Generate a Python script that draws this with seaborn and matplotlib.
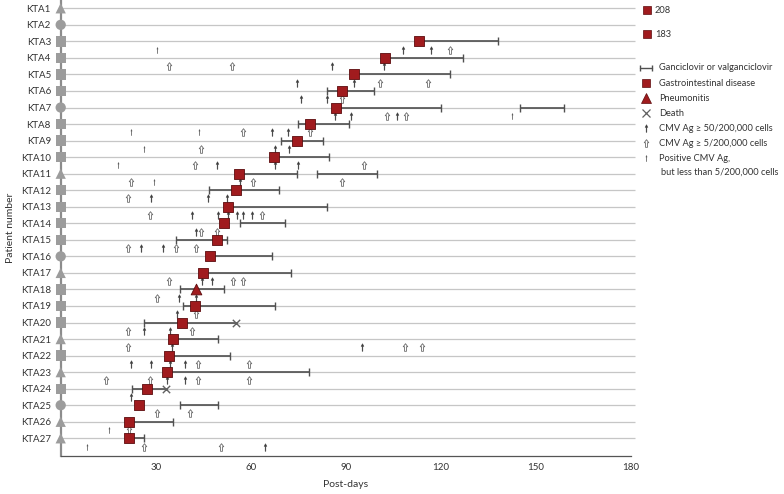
import numpy as np
import pandas as pd
import matplotlib
matplotlib.use('Agg')
import matplotlib.pyplot as plt
from matplotlib.path import Path
import seaborn as sns

# Configuration
OUTPUT_IMAGE = 'out.png'
RED = '#a01b1e'
RED_EDGE = '#5c0c0e'
BAR_COLOR = '#505050'
ROW_COLOR = '#c6c6c6'
AXIS_MARK = '#9c9c9c'
FONT_SIZE = 7
KEY_FONT = 6.7

# Data (in post-transplant days)
patients = [f'KTA{i}' for i in range(1, 28)]
axis_shape = ['^', 'o', 's', 's', 's', 's', 'o', 's', 's', 's',
              '^', 's', 's', 's', 's', 'o', '^', 's', 's', 's',
              '^', 's', '^', 's', 'o', '^', '^']

gi_patients = ['KTA3', 'KTA4', 'KTA5', 'KTA6', 'KTA7', 'KTA8', 'KTA9', 'KTA10',
               'KTA11', 'KTA12', 'KTA13', 'KTA14', 'KTA15', 'KTA16', 'KTA17',
               'KTA19', 'KTA20', 'KTA21', 'KTA22', 'KTA23', 'KTA24', 'KTA25',
               'KTA26', 'KTA27']
gi_days = [113, 102.5, 92.6, 88.7, 86.8, 78.6, 74.6, 67.4,
           56.4, 55.4, 52.8, 51.7, 49.4, 47.1, 44.8,
           42.4, 38.4, 35.4, 34.2, 33.5, 27.3, 24.7,
           21.6, 21.6]

offscale_labels = ['208', '183']

pneumonitis_patients = ['KTA18']
pneumonitis_days = [42.6]

death_patients = ['KTA20', 'KTA24']
death_days = [55.4, 33.3]

gcv_patients = ['KTA3', 'KTA4', 'KTA5', 'KTA6', 'KTA7', 'KTA7', 'KTA8', 'KTA9',
                'KTA10', 'KTA11', 'KTA11', 'KTA12', 'KTA13', 'KTA14', 'KTA15',
                'KTA16', 'KTA17', 'KTA18', 'KTA19', 'KTA20', 'KTA21', 'KTA22',
                'KTA23', 'KTA24', 'KTA25', 'KTA26', 'KTA27']
gcv_start = [113, 102.5, 92.6, 84, 86.8, 145, 74.8, 69.7,
             67.4, 56.4, 81, 46.8, 52.8, 56.6, 36.4,
             47.1, 44.8, 37.7, 38.5, 26.3, 35.4, 34.2,
             33.5, 22.5, 37.7, 21.6, 21.6]
gcv_end = [138, 127, 123, 99, 120, 159, 91, 82.7,
           84.8, 74.5, 100, 68.8, 84, 70.8, 52.4,
           66.7, 72.6, 51.7, 67.7, 55.4, 49.7, 53.5,
           78.5, 33.3, 49.8, 35.4, 26.3]

ag_high = {  # CMV Ag >= 50/200,000 cells
    'KTA3': [108, 117], 'KTA4': [85.8, 102.2], 'KTA5': [74.6, 92.6],
    'KTA6': [75.8, 84], 'KTA7': [86.7, 91.7, 106.1], 'KTA8': [66.7, 71.7],
    'KTA9': [67.8, 72], 'KTA10': [49.4, 67.8, 74.8], 'KTA11': [56.6],
    'KTA12': [28.4, 46.6, 52.5], 'KTA13': [41.6, 49.8, 52.7, 55.8, 57.7, 60.5],
    'KTA14': [42.6], 'KTA15': [25.4, 32.4], 'KTA17': [44.5, 47.7],
    'KTA18': [37.5, 42.6], 'KTA19': [36.6], 'KTA20': [26.3, 34.5],
    'KTA21': [35.1, 95], 'KTA22': [22.3, 28.4, 34.5, 39.3],
    'KTA23': [33.5, 39.3], 'KTA24': [22.3], 'KTA27': [64.5],
}
ag_mid = {  # CMV Ag >= 5/200,000 cells
    'KTA3': [123], 'KTA4': [34.3, 54.2], 'KTA5': [100.8, 116.1],
    'KTA6': [88.8], 'KTA7': [102.9, 108.9], 'KTA8': [57.5, 78.6],
    'KTA9': [44.3], 'KTA10': [42.4, 95.7], 'KTA11': [22.2, 60.8, 88.8],
    'KTA12': [21.4], 'KTA13': [28.2, 63.6], 'KTA14': [44.3, 49.4],
    'KTA15': [21.4, 36.3, 42.6], 'KTA17': [34.3, 54.5, 57.5], 'KTA18': [30.3],
    'KTA19': [42.6], 'KTA20': [21.4, 41.5], 'KTA21': [21.4, 108.7, 114],
    'KTA22': [43.4, 59.6], 'KTA23': [14.3, 28.3, 43.5, 59.6],
    'KTA25': [30.5, 40.8], 'KTA26': [21.6], 'KTA27': [26.3, 50.5],
}
ag_low = {  # positive CMV Ag, < 5/200,000 cells
    'KTA3': [30.3], 'KTA7': [142.4], 'KTA8': [22.2, 43.6], 'KTA9': [26.3],
    'KTA10': [18.2], 'KTA11': [29.4], 'KTA26': [15.2], 'KTA27': [8.2],
}

x_ticks = [30, 60, 90, 120, 150, 180]

# Marker shapes
ARROW_FILLED = Path([(0, 1), (0.38, 0.3), (0.1, 0.3), (0.1, -1), (-0.1, -1),
                     (-0.1, 0.3), (-0.38, 0.3), (0, 1)], closed=True)
ARROW_HOLLOW = Path([(0, 1), (0.6, 0.2), (0.26, 0.2), (0.26, -1), (-0.26, -1),
                     (-0.26, 0.2), (-0.6, 0.2), (0, 1)], closed=True)
ARROW_THIN = Path([(0, 1), (0.22, 0.45), (0.06, 0.45), (0.06, -1), (-0.06, -1),
                   (-0.06, 0.45), (-0.22, 0.45), (0, 1)], closed=True)

row_of = {p: i + 1 for i, p in enumerate(patients)}


def events_frame(d):
    rows = [(p, row_of[p] + 0.5, day) for p, days in d.items() for day in days]
    return pd.DataFrame(rows, columns=['patient', 'row', 'day'])


def create_chart():
    sns.set_theme(style='white')
    plt.rcParams['font.family'] = ['Lato', 'DejaVu Sans']

    fig = plt.figure(figsize=(7.84, 4.94), dpi=100)
    ax = fig.add_axes([60.7 / 784, 38 / 494, 570.1 / 784, 456 / 494])

    rows = np.arange(1, len(patients) + 1)
    ax.hlines(rows, 0, 181.3, color=ROW_COLOR, lw=0.9, zorder=1, clip_on=False)

    # Ganciclovir courses; a course ending in death gets the X, not a cap
    g_rows = [row_of[p] for p in gcv_patients]
    ax.hlines(g_rows, gcv_start, gcv_end, color=BAR_COLOR, lw=1.2, zorder=2)
    deaths = set(zip(death_patients, death_days))
    caps = [(row_of[p], s) for p, s in zip(gcv_patients, gcv_start)]
    caps += [(row_of[p], e) for p, e in zip(gcv_patients, gcv_end)
             if (p, e) not in deaths]
    cap_df = pd.DataFrame(caps, columns=['row', 'day'])
    sns.scatterplot(data=cap_df, x='day', y='row', marker='|', s=30,
                    color=BAR_COLOR, linewidth=1.0, zorder=2, ax=ax)

    # CMV antigenemia markers (just below each patient line)
    sns.scatterplot(data=events_frame(ag_high), x='day', y='row',
                    marker=ARROW_FILLED, s=30, color='#3c3c3c',
                    edgecolor='#3c3c3c', linewidth=0.3, zorder=3, ax=ax)
    sns.scatterplot(data=events_frame(ag_mid), x='day', y='row',
                    marker=ARROW_HOLLOW, s=30, color='white',
                    edgecolor='#6a6a6a', linewidth=0.6, zorder=3, ax=ax)
    sns.scatterplot(data=events_frame(ag_low), x='day', y='row',
                    marker=ARROW_THIN, s=20, color='#505050',
                    edgecolor='#505050', linewidth=0.2, zorder=3, ax=ax)

    # Clinical events
    gi_df = pd.DataFrame({'row': [row_of[p] for p in gi_patients], 'day': gi_days})
    sns.scatterplot(data=gi_df, x='day', y='row', marker='s', s=42, color=RED,
                    edgecolor=RED_EDGE, linewidth=0.6, zorder=5, ax=ax)
    pn_df = pd.DataFrame({'row': [row_of[p] for p in pneumonitis_patients],
                          'day': pneumonitis_days})
    sns.scatterplot(data=pn_df, x='day', y='row', marker='^', s=60, color=RED,
                    edgecolor=RED_EDGE, linewidth=0.6, zorder=5, ax=ax)
    de_df = pd.DataFrame({'row': [row_of[p] for p in death_patients],
                          'day': death_days})
    sns.scatterplot(data=de_df, x='day', y='row', marker='x', s=28,
                    color='#606060', linewidth=1.0, zorder=5, ax=ax)

    # Symbols on the patient axis
    ax_df = pd.DataFrame({'row': rows, 'day': 0, 'shape': axis_shape})
    sns.scatterplot(data=ax_df, x='day', y='row', style='shape',
                    markers={'^': '^', 'o': 'o', 's': 's'}, s=55,
                    color=AXIS_MARK, edgecolor=AXIS_MARK, linewidth=0,
                    zorder=6, clip_on=False, legend=False, ax=ax)

    ax.set_xlim(0, 180)
    ax.set_ylim(28.07, 0.498)
    ax.set_xticks(x_ticks)
    ax.set_xticklabels([str(t) for t in x_ticks], fontsize=FONT_SIZE, color='#333333')
    ax.set_yticks(rows)
    ax.set_yticklabels(patients, fontsize=FONT_SIZE, color='#333333')
    ax.tick_params(axis='y', length=0, pad=7)
    ax.tick_params(axis='x', direction='inout', length=6, width=0.9,
                   color='#555555', pad=2)
    for side in ['top', 'right']:
        ax.spines[side].set_visible(False)
    ax.spines['left'].set_color('#8c8c8c')
    ax.spines['left'].set_linewidth(1.6)
    ax.spines['bottom'].set_color('#555555')
    ax.spines['bottom'].set_linewidth(0.9)
    ax.set_xlabel('Post-days', fontsize=FONT_SIZE + 0.5, color='#333333')
    ax.set_ylabel('Patient number', fontsize=FONT_SIZE + 0.5, color='#333333')
    ax.xaxis.set_label_coords(0.5, -0.052)
    ax.yaxis.set_label_coords(-0.08, 0.5)

    # Key on the right (pixel coordinates of the figure)
    lax = fig.add_axes([636 / 784, 0, 148 / 784, 1])
    lax.set_xlim(636, 784)
    lax.set_ylim(494, 0)
    lax.axis('off')

    for lab, yy in zip(offscale_labels, [10, 34]):
        lax.plot(647, yy, marker='s', ms=5.5, mfc=RED, mec=RED_EDGE, mew=0.5)
        lax.text(655, yy + 0.5, lab, fontsize=KEY_FONT, va='center', color='#333333')

    ky = [68, 83, 98, 113, 128.5, 143, 158]
    kx = 646
    lax.plot([kx - 6, kx + 6], [ky[0], ky[0]], color=BAR_COLOR, lw=1.0)
    lax.plot([kx - 6, kx + 6], [ky[0], ky[0]], ls='none', marker='|', ms=5,
             mew=1.0, color=BAR_COLOR)
    lax.plot(kx, ky[1], marker='s', ms=6, mfc=RED, mec=RED_EDGE, mew=0.5)
    lax.plot(kx, ky[2], marker='^', ms=7, mfc=RED, mec=RED_EDGE, mew=0.5)
    lax.plot(kx, ky[3], marker='x', ms=6, mew=0.9, color='#606060')
    lax.plot(kx, ky[4], marker=ARROW_FILLED, ms=5.5, mfc='#3c3c3c', mec='#3c3c3c', mew=0.3)
    lax.plot(kx, ky[5], marker=ARROW_HOLLOW, ms=5.5, mfc='white', mec='#6a6a6a', mew=0.6)
    lax.plot(kx, ky[6], marker=ARROW_THIN, ms=4.5, mfc='#505050', mec='#505050', mew=0.2)

    key_labels = ['Ganciclovir or valganciclovir', 'Gastrointestinal disease',
                  'Pneumonitis', 'Death', 'CMV Ag \u2265 50/200,000 cells',
                  'CMV Ag \u2265 5/200,000 cells', 'Positive CMV Ag,']
    for lab, yy in zip(key_labels, ky):
        lax.text(659, yy, lab, fontsize=KEY_FONT, va='center', color='#333333')
    lax.text(661, 172.5, 'but less than 5/200,000 cells', fontsize=KEY_FONT,
             va='center', color='#333333')

    fig.savefig(OUTPUT_IMAGE, dpi=100)
    plt.close(fig)


if __name__ == '__main__':
    create_chart()
